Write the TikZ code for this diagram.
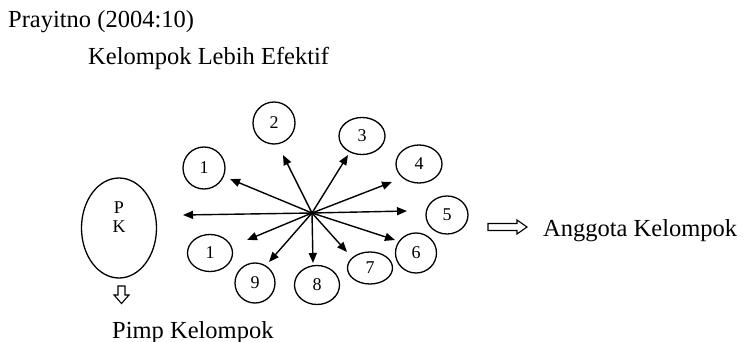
\documentclass[tikz,border=0pt]{standalone}
\usepackage{fontspec}
\setmainfont{Liberation Serif}
\usetikzlibrary{arrows.meta,shapes.geometric}
\begin{document}
\begin{tikzpicture}[x=1pt,y=-1pt,
  member/.style={draw, ellipse, line width=1.3pt, inner sep=0pt,
    font=\fontsize{18}{20}\selectfont},
  ray/.style={line width=1.4pt, -{Triangle[length=10pt,width=8pt]}},
  caption/.style={anchor=base west, inner sep=0pt,
    font=\fontsize{24.5}{28}\selectfont},
  hollow/.style={draw, line width=1.1pt, line join=miter}]
\useasboundingbox (0,0) rectangle (744,342);

% headings
\node[caption] (src) at (8,28) {Prayitno (2004:10)};
\node[caption] (title) at (88,65) {Kelompok Lebih Efektif};

% group leader
\node[draw, ellipse, line width=1.3pt, minimum width=75pt, minimum height=100pt] (pk) at (119,228) {};
\node[align=center, inner sep=0pt, font=\fontsize{18}{19}\selectfont] (pklabel) at (119,217) {P\\K};

% group members
\node[member, minimum width=42pt, minimum height=42pt] (m1a) at (204,168) {1};
\node[member, minimum width=42pt, minimum height=42pt] (m2) at (274,123) {2};
\node[member, minimum width=46pt, minimum height=37pt] (m3) at (362,136) {3};
\node[member, minimum width=46pt, minimum height=38pt] (m4) at (419,164) {4};
\node[member, minimum width=42pt, minimum height=38pt] (m5) at (447,215) {5};
\node[member, minimum width=41pt, minimum height=40pt] (m6) at (416,253) {6};
\node[member, minimum width=45pt, minimum height=32pt] (m7) at (370,268) {7};
\node[member, minimum width=45pt, minimum height=39pt] (m8) at (317,285) {8};
\node[member, minimum width=40pt, minimum height=40pt] (m9) at (255,283) {9};
\node[member, minimum width=45pt, minimum height=37pt] (m1b) at (210,253) {1};

% rays from the centre
\coordinate (hub) at (312,213);
\coordinate (t1a) at (230,179);
\coordinate (tpk) at (183,215);
\coordinate (t2) at (283,155);
\coordinate (t3) at (348,155);
\coordinate (t4) at (392,182);
\coordinate (t5) at (407,211);
\coordinate (t6) at (395,240);
\coordinate (t7) at (347,252);
\coordinate (t8) at (313,263);
\coordinate (t9) at (269,262);
\coordinate (t1b) at (247,240);
\foreach \t in {t1a,tpk,t2,t3,t4,t5,t6,t7,t8,t9,t1b}
  \draw[ray] (hub) -- (\t);

% hollow arrows and their captions
\draw[hollow] (488,223.5) -- (517,223.5) -- (517,220) -- (527,227)
  -- (517,234) -- (517,230.5) -- (488,230.5) -- cycle;
\node[caption] (members) at (543,236) {Anggota Kelompok};

\draw[hollow] (118,286) -- (125,286) -- (125,295) -- (129,295) -- (121.5,303.5)
  -- (114,295) -- (118,295) -- cycle;
\node[caption] (leader) at (112,338) {Pimp Kelompok};
\end{tikzpicture}
\end{document}
